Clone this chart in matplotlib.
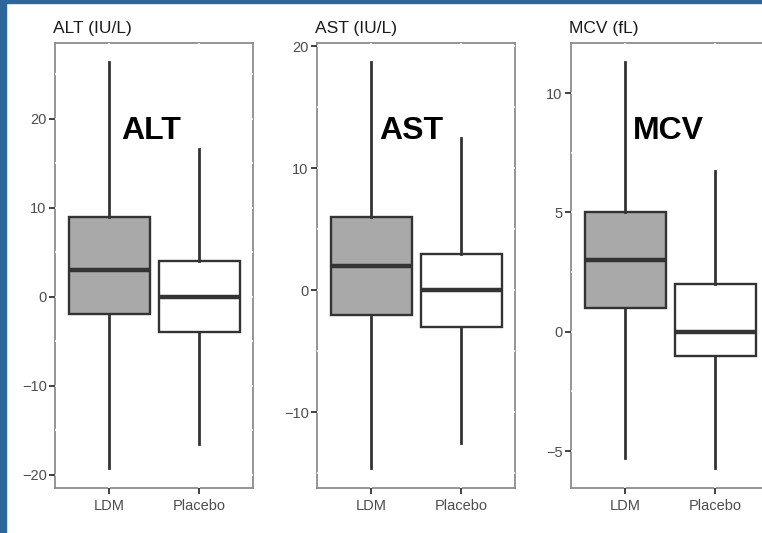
import matplotlib
matplotlib.use('Agg')
import matplotlib.pyplot as plt
from matplotlib.patches import Rectangle

plt.rcParams['font.family'] = ['Liberation Sans', 'DejaVu Sans']

# ── Data ─────────────────────────────────────────────────────────────────────
groups = ['LDM', 'Placebo']
panel_titles = ['ALT (IU/L)', 'AST (IU/L)', 'MCV (fL)']
panel_tags = ['ALT', 'AST', 'MCV']

alt_whislo = [-19.2, -16.5]
alt_q1 = [-2.0, -4.0]
alt_med = [3.0, 0.0]
alt_q3 = [9.0, 4.0]
alt_whishi = [26.4, 16.6]

ast_whislo = [-14.6, -12.5]
ast_q1 = [-2.0, -3.0]
ast_med = [2.0, 0.0]
ast_q3 = [6.0, 3.0]
ast_whishi = [18.7, 12.5]

mcv_whislo = [-5.3, -5.7]
mcv_q1 = [1.0, -1.0]
mcv_med = [3.0, 0.0]
mcv_q3 = [5.0, 2.0]
mcv_whishi = [11.3, 6.75]

yticks = [[-20, -10, 0, 10, 20], [-10, 0, 10, 20], [-5, 0, 5, 10]]
ylims = [(-21.5, 28.5), (-16.2, 20.25), (-6.55, 12.1)]
minor = [[-15, -5, 5, 15, 25], [-15, -5, 5, 15], [-2.5, 2.5, 7.5]]

box_fill = ['#a9a9a9', '#ffffff']
line_col = '#333333'

stats_all = [
    (alt_whislo, alt_q1, alt_med, alt_q3, alt_whishi),
    (ast_whislo, ast_q1, ast_med, ast_q3, ast_whishi),
    (mcv_whislo, mcv_q1, mcv_med, mcv_q3, mcv_whishi),
]

W, H = 762, 533
fig = plt.figure(figsize=(W / 100, H / 100), dpi=100)

# blue frame strips of the source slide
fig.patches.append(Rectangle((0, 0), 6 / W, 1, transform=fig.transFigure,
                             color='#2f6699', zorder=0))
fig.patches.append(Rectangle((0, 1 - 2.5 / H), 1, 2.5 / H, transform=fig.transFigure,
                             color='#2f6699', zorder=0))

lefts = [55, 317, 571]
pw, top_px, bot_px = 198, 43, 488
tag_x = [0.333, 0.313, 0.313]

for i, (wl, q1, md, q3, wh) in enumerate(stats_all):
    ax = fig.add_axes([lefts[i] / W, (H - bot_px) / H, pw / W, (bot_px - top_px) / H])
    stats = [dict(label=g, whislo=wl[k], q1=q1[k], med=md[k], q3=q3[k], whishi=wh[k], fliers=[])
             for k, g in enumerate(groups)]
    bp = ax.bxp(stats, positions=[1, 2], widths=0.9, showcaps=False, patch_artist=True,
                boxprops=dict(edgecolor=line_col, linewidth=1.7),
                whiskerprops=dict(color=line_col, linewidth=2.0),
                medianprops=dict(color=line_col, linewidth=3.2, solid_capstyle='butt'),
                zorder=3)
    for patch, c in zip(bp['boxes'], box_fill):
        patch.set_facecolor(c)

    ax.set_xlim(0.4, 2.6)
    ax.set_ylim(*ylims[i])
    ax.set_yticks(yticks[i])
    ax.set_yticks(minor[i], minor=True)
    ax.set_xticks([1, 2])
    ax.set_xticklabels(groups)

    # white grid lines cutting the panel border like the ggplot source
    ax.grid(True, which='both', color='white', linewidth=1.2, zorder=4)
    ax.set_axisbelow(False)
    for s in ax.spines.values():
        s.set_color('#8c8c8c')
        s.set_linewidth(1.3)
        s.set_zorder(2)

    ax.tick_params(axis='both', which='major', length=4, width=1.3, color='#333333',
                   labelcolor='#4d4d4d', labelsize=10.5, pad=2)
    ax.tick_params(axis='x', which='major', pad=4)
    ax.tick_params(axis='both', which='minor', length=0)
    ax.set_title(panel_titles[i], loc='left', fontsize=12.5, color='#1a1a1a', pad=7, x=-0.01)
    ax.text(tag_x[i], 0.802, panel_tags[i], transform=ax.transAxes, fontsize=23,
            fontweight='bold', ha='left', va='center', color='black', zorder=5)

fig.savefig('out.png', dpi=100)
